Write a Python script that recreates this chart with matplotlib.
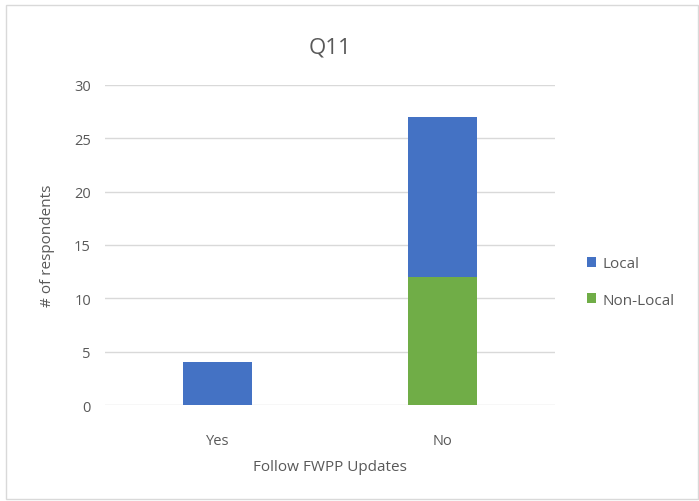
import numpy as np
import matplotlib
matplotlib.use('Agg')
import matplotlib.pyplot as plt
from matplotlib.patches import Rectangle

# data
categories = ['Yes', 'No']
non_local = [0, 12]
local = [4, 15]
series_names = ['Local', 'Non-Local']
yticks = [0, 5, 10, 15, 20, 25, 30]

blue = '#4472C4'
green = '#70AD47'
txt = '#595959'

plt.rcParams['font.family'] = ['Open Sans', 'DejaVu Sans']

fig = plt.figure(figsize=(6.99, 5.02), dpi=100)
fig.patches.append(Rectangle((0.008, 0.004), 0.99, 0.985, transform=fig.transFigure,
                             fill=False, edgecolor='#D9D9D9', linewidth=1))
ax = fig.add_axes([0.150, 0.191, 0.644, 0.638])

x = np.arange(len(categories))
b1 = ax.bar(x, non_local, width=0.31, color=green, label='Non-Local', zorder=3)
b2 = ax.bar(x, local, width=0.31, bottom=non_local, color=blue, label='Local', zorder=3)

ax.set_xlim(-0.5, 1.5)
ax.set_ylim(0, 30)
ax.set_yticks(yticks)
ax.set_xticks(x)
ax.set_xticklabels(categories)
ax.grid(axis='y', color='#D9D9D9', linewidth=1, zorder=0)
for s in ax.spines.values():
    s.set_visible(False)
ax.tick_params(length=0, colors=txt, labelsize=10.5)
ax.tick_params(axis='y', pad=10)
ax.tick_params(axis='x', pad=20)

ax.set_title('Q11', fontsize=16, color=txt, pad=23)
ax.set_xlabel('Follow FWPP Updates', fontsize=11, color=txt, labelpad=8)
ax.set_ylabel('# of respondents', fontsize=11, color=txt, labelpad=14)

leg = ax.legend(handles=[b2, b1], labels=series_names, loc='center left',
                bbox_to_anchor=(1.04, 0.385), frameon=False, fontsize=11,
                handlelength=0.6, handleheight=0.6, handletextpad=0.4,
                labelspacing=1.4, labelcolor=txt)

fig.savefig('out.png', dpi=100)
